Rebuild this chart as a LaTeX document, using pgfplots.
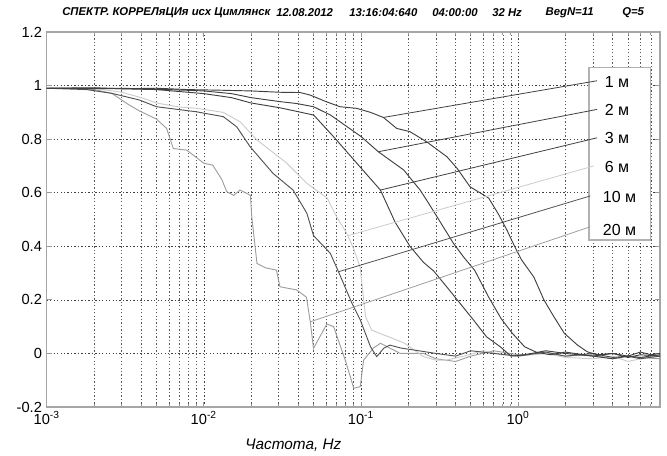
\documentclass[border=0pt]{standalone}
\usepackage{pgfplots}
\pgfplotsset{compat=1.18}
\usepackage{fontspec}
\setmainfont{Liberation Sans}
\definecolor{cdark}{gray}{0.25}
\definecolor{cten}{gray}{0.32}
\definecolor{cmid}{gray}{0.62}
\definecolor{clight}{gray}{0.80}
\begin{document}
\begin{tikzpicture}
\useasboundingbox (0pt,0pt) rectangle (500.25pt,341.25pt);
\begin{axis}[
  at={(35pt,36pt)}, anchor=south west,
  scale only axis, width=460pt, height=281.25pt,
  xmode=log, xmin=0.001, xmax=8, ymin=-0.2, ymax=1.2,
  xtick={0.001,0.01,0.1,1},
  xticklabels={10\textsuperscript{-3},10\textsuperscript{-2},10\textsuperscript{-1},10\textsuperscript{0}},
  minor xtick={0.002,0.003,0.004,0.005,0.006,0.007,0.008,0.009,0.02,0.03,0.04,0.05,0.06,0.07,0.08,0.09,0.2,0.3,0.4,0.5,0.6,0.7,0.8,0.9,2,3,4,5,6,7},
  ytick={-0.2,0,0.2,0.4,0.6,0.8,1,1.2},
  yticklabels={-0.2,0,0.2,0.4,0.6,0.8,1,1.2},
  ticklabel style={font=\fontsize{11}{12}\selectfont},
  axis line style={draw=gray!70, line width=1pt},
  tick style={gray!80, line width=0.6pt},
  tick align=inside,
  major tick length=4pt, minor tick length=2.5pt,
  xmajorgrids, xminorgrids, ymajorgrids,
  major grid style={black!75, dash pattern=on 1pt off 1.6pt, line width=0.45pt},
  minor grid style={black!65, dash pattern=on 1pt off 1.6pt, line width=0.45pt},
  every axis plot/.append style={line width=0.7pt},
]
% 20 m
\addplot[cmid] coordinates {
(0.001,0.99)(0.0015,0.99)(0.002,0.985)(0.0026,0.971)(0.0033,0.93)(0.0039,0.905)(0.005,0.875)(0.0058,0.84)(0.0064,0.765)(0.0078,0.759)(0.01,0.71)(0.0114,0.703)(0.013,0.65)(0.014,0.604)(0.0155,0.59)(0.017,0.61)(0.0187,0.598)(0.0198,0.59)(0.0202,0.51)(0.0218,0.336)(0.0246,0.32)(0.029,0.311)(0.0305,0.249)(0.039,0.237)(0.045,0.21)(0.0476,0.118)(0.0499,0.019)(0.0607,0.11)(0.067,0.1)(0.08,-0.03)(0.09,-0.13)(0.099,-0.124)(0.104,-0.025)(0.12,0.02)(0.133,0.038)(0.178,0.0)(0.25,0.0)(0.3,-0.02)(0.4,-0.03)(0.5,-0.01)(0.7,0.01)(1.0,-0.005)(1.5,0.0)(2,-0.01)(3,-0.005)(4,-0.02)(5,-0.01)(6,-0.015)(8,-0.02)};
% 6 m
\addplot[clight] coordinates {
(0.001,0.99)(0.002,0.99)(0.003,0.975)(0.004,0.955)(0.005,0.935)(0.007,0.92)(0.009,0.915)(0.0133,0.9)(0.017,0.865)(0.0218,0.797)(0.0338,0.71)(0.0453,0.635)(0.061,0.58)(0.07,0.51)(0.081,0.45)(0.09,0.39)(0.099,0.32)(0.103,0.224)(0.107,0.137)(0.117,0.087)(0.15,0.062)(0.19,0.038)(0.25,-0.012)(0.3,-0.025)(0.35,-0.025)(0.45,-0.01)(0.6,0.01)(0.8,-0.005)(1.0,-0.01)(1.5,0.0)(2,-0.015)(3,-0.02)(4,-0.01)(5,-0.03)(6,-0.02)(8,-0.01)};
% 10 m
\addplot[cten] coordinates {
(0.001,0.99)(0.0018,0.985)(0.0026,0.971)(0.0039,0.946)(0.005,0.921)(0.009,0.902)(0.0133,0.884)(0.0162,0.846)(0.0197,0.772)(0.0276,0.672)(0.037,0.61)(0.0453,0.523)(0.0499,0.44)(0.0638,0.374)(0.072,0.305)(0.0877,0.187)(0.099,0.125)(0.115,0.025)(0.126,-0.012)(0.14,0.02)(0.153,0.031)(0.18,0.02)(0.216,0.013)(0.3,0.0)(0.4,-0.01)(0.5,0.01)(0.7,0.0)(1.0,-0.01)(1.5,0.005)(2,-0.01)(3,0.0)(4,-0.015)(5,-0.01)(6,-0.02)(8,-0.01)};
% 3 m
\addplot[cdark] coordinates {
(0.001,0.99)(0.003,0.988)(0.005,0.985)(0.01,0.97)(0.015,0.955)(0.02,0.935)(0.0306,0.917)(0.05,0.89)(0.067,0.809)(0.0985,0.697)(0.133,0.61)(0.165,0.49)(0.205,0.4)(0.25,0.34)(0.29,0.308)(0.35,0.25)(0.41,0.2)(0.52,0.125)(0.63,0.062)(0.77,0.025)(0.9,-0.01)(1.1,-0.005)(1.5,0.01)(2,0.0)(3,-0.01)(4,-0.02)(5,-0.01)(6,-0.015)(8,-0.005)};
% 2 m
\addplot[cdark] coordinates {
(0.001,0.99)(0.003,0.99)(0.006,0.985)(0.01,0.98)(0.015,0.97)(0.02,0.955)(0.0306,0.94)(0.039,0.933)(0.05,0.921)(0.064,0.89)(0.08,0.85)(0.1,0.81)(0.129,0.753)(0.187,0.685)(0.238,0.61)(0.27,0.56)(0.305,0.51)(0.388,0.411)(0.45,0.36)(0.53,0.31)(0.65,0.21)(0.78,0.13)(0.92,0.075)(1.1,0.025)(1.3,0.005)(1.6,-0.005)(2,0.005)(3,-0.01)(4,0.0)(5,-0.015)(6,-0.005)(8,-0.01)};
% 1 m
\addplot[cdark] coordinates {
(0.001,0.99)(0.002,0.992)(0.003,0.988)(0.005,0.99)(0.008,0.985)(0.012,0.983)(0.02,0.98)(0.0306,0.975)(0.041,0.974)(0.0473,0.965)(0.06,0.94)(0.0736,0.921)(0.094,0.915)(0.115,0.9)(0.139,0.881)(0.169,0.84)(0.205,0.828)(0.262,0.79)(0.353,0.734)(0.409,0.691)(0.495,0.622)(0.65,0.58)(0.75,0.52)(0.85,0.46)(0.95,0.40)(1.05,0.35)(1.26,0.285)(1.46,0.2)(1.69,0.137)(1.97,0.075)(2.39,0.031)(2.76,0.006)(3.2,-0.005)(4,0.0)(5,-0.01)(6,0.005)(7,-0.005)(8,0.0)};
% label box
\draw[gray!60, line width=1.2pt, fill=white] (axis cs:2.82,0.423) rectangle (axis cs:6.96,1.068);
% annotation lines
\addplot[cdark, line width=0.6pt] coordinates {(3.18,1.018)(0.139,0.881)};
\addplot[cdark, line width=0.6pt] coordinates {(3.18,0.911)(0.129,0.753)};
\addplot[cdark, line width=0.6pt] coordinates {(3.18,0.805)(0.133,0.61)};
\addplot[clight, line width=0.6pt] coordinates {(3.03,0.70)(0.083,0.44)};
\addplot[cten, line width=0.6pt] coordinates {(2.88,0.588)(0.072,0.305)};
\addplot[cmid, line width=0.6pt] coordinates {(2.88,0.473)(0.0476,0.118)};
\node[anchor=west, font=\fontsize{12}{14}\selectfont, inner sep=0pt] at (axis cs:3.55,1.014) {1 м};
\node[anchor=west, font=\fontsize{12}{14}\selectfont, inner sep=0pt] at (axis cs:3.55,0.909) {2 м};
\node[anchor=west, font=\fontsize{12}{14}\selectfont, inner sep=0pt] at (axis cs:3.55,0.803) {3 м};
\node[anchor=west, font=\fontsize{12}{14}\selectfont, inner sep=0pt] at (axis cs:3.55,0.695) {6 м};
\node[anchor=west, font=\fontsize{12}{14}\selectfont, inner sep=0pt] at (axis cs:3.45,0.585) {10 м};
\node[anchor=west, font=\fontsize{12}{14}\selectfont, inner sep=0pt] at (axis cs:3.45,0.461) {20 м};
\end{axis}
% title pieces
\begin{scope}[every node/.style={anchor=west, inner sep=0pt, font=\fontsize{8.5}{10}\selectfont\bfseries\itshape}]
\node at (46.5pt,331.5pt) {СПЕКТР. КОРРЕЛяЦИя исх Цимлянск};
\node at (207pt,331.5pt) {12.08.2012};
\node at (261.75pt,331.5pt) {13:16:04:640};
\node at (324pt,331.5pt) {04:00:00};
\node at (369pt,331.5pt) {32 Hz};
\node at (409pt,331.5pt) {BegN=11};
\node at (466.5pt,331.5pt) {Q=5};
\end{scope}
\node[font=\fontsize{11.5}{13}\selectfont\itshape, inner sep=0pt] at (220pt,7.5pt) {Частота, Hz};
\end{tikzpicture}
\end{document}
